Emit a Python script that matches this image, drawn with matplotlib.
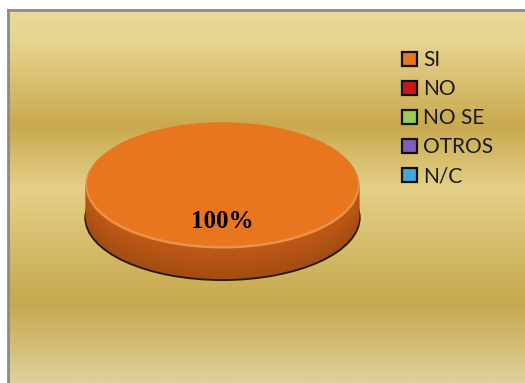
from matplotlib import pyplot as plt
from matplotlib.patches import Rectangle
from matplotlib.colors import LinearSegmentedColormap, to_rgb
import numpy as np

# Datos del grafico
categorias = ['SI', 'NO', 'NO SE', 'OTROS', 'N/C']
valores = [100, 0, 0, 0, 0]
colores = ['#e8761e', '#c81818', '#9cc95c', '#7d5fb3', '#42a8d6']
lados = ['#c05a16', '#8a1010', '#6f9a3c', '#57408a', '#2a7ea6']

W, H = 525, 383
fig = plt.figure(figsize=(W / 100, H / 100), dpi=100)
fig.patch.set_facecolor('white')

# Fondo dorado con degradado
bg = fig.add_axes([8 / W, 0, 1 - 8 / W, 1 - 10 / H])
stops = [(0.0, '#e9da9c'), (0.08, '#e6d490'), (0.31, '#c9a94f'),
         (0.48, '#e4d087'), (0.79, '#c6a84e'), (1.0, '#ddd19c')]
cmap = LinearSegmentedColormap.from_list('oro', stops)
grad = np.linspace(0, 1, 300).reshape(-1, 1)
bg.imshow(grad, aspect='auto', cmap=cmap, extent=[0, 1, 1, 0])
bg.set_xlim(0, 1)
bg.set_ylim(1, 0)
bg.set_xticks([])
bg.set_yticks([])
for s in ['right', 'bottom']:
    bg.spines[s].set_visible(False)
for s in ['top', 'left']:
    bg.spines[s].set_color('#8a8a8a')
    bg.spines[s].set_linewidth(2)

# Pastel 3D (elipse aplanada)
esp = 0.52
ax = fig.add_axes([83 / W, 1 - 281 / H, 279 / W, 160 / H])

# sombra
ax.pie(valores, colors=['#2a1a08'] * 5, startangle=90, radius=1.01,
       center=(0, -esp - 0.02), frame=True)
# costado (mas oscuro abajo)
capas = np.linspace(esp, 0.02, 20)
for i, k in enumerate(capas):
    f = 0.85 + 0.15 * i / (len(capas) - 1)
    cs = [tuple(min(1, v * f) for v in to_rgb(c)) for c in lados]
    ax.pie(valores, colors=cs, startangle=90, center=(0, -k), frame=True)
# brillo del borde
ax.pie(valores, colors=['#eb914a'] * 5, startangle=90, radius=1.0,
       center=(0, -0.03), frame=True)

def pct(p):
    return '%d%%' % round(p) if p > 0.5 else ''

wedges, textos, autot = ax.pie(valores, colors=colores, startangle=90,
                               radius=0.99, labels=[''] * 5, autopct=pct,
                               pctdistance=0.6, frame=True,
                               textprops=dict(family='Liberation Serif',
                                              weight='bold', fontsize=18,
                                              color='black'))
ax.set_xlim(-1.02, 1.02)
ax.set_ylim(-1 - esp - 0.03, 1.01)
ax.set_aspect('auto')
ax.axis('off')

# Leyenda
handles = [Rectangle((0, 0), 1, 1, facecolor=c, edgecolor='#111111', linewidth=1.6)
           for c in colores]
leg = fig.legend(handles, categorias, loc='upper left',
                 bbox_to_anchor=(392 / W, 1 - 40 / H), frameon=False,
                 prop=dict(family='Lato', size=15), handlelength=0.7,
                 handleheight=0.7, handletextpad=0.3, labelspacing=0.43,
                 borderpad=0)
for t in leg.get_texts():
    t.set_color('#1a1a1a')

fig.savefig('out.png', dpi=100)
